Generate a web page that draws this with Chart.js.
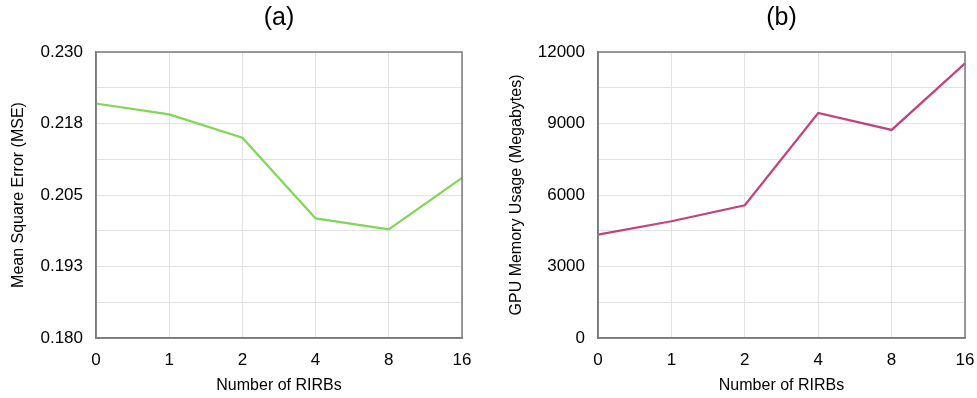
<!DOCTYPE html>
<html>
<head>
<meta charset="utf-8">
<script src="https://cdn.jsdelivr.net/npm/chart.js@4/dist/chart.umd.min.js"></script>
<style>
  html, body { margin: 0; padding: 0; background: #fff; }
  body { width: 977px; height: 398px; position: relative; overflow: hidden; }
  .panel { position: absolute; top: 0; height: 398px; }
  #panelA { left: 0; width: 480px; }
  #panelB { left: 490px; width: 487px; }
</style>
</head>
<body>
<div class="panel" id="panelA"><canvas id="chartA"></canvas></div>
<div class="panel" id="panelB"><canvas id="chartB"></canvas></div>
<script>
// Number of RIRBs on the x axis (shared by both panels)
const rirbCounts = ['0', '1', '2', '4', '8', '16'];

// (a) reconstruction error
const mseValues = [0.2210, 0.2191, 0.2150, 0.2009, 0.1990, 0.2080];
const mseTickLabels = ['0.180', '0.193', '0.205', '0.218', '0.230'];

// (b) GPU memory footprint
const memoryValues = [4340, 4900, 5570, 9440, 8730, 11520];
const memoryTickLabels = ['0', '3000', '6000', '9000', '12000'];

const FONT = "'Liberation Sans', Arial, Helvetica, sans-serif";
const GRID = '#e2e2e2';
const FRAME = '#7a7a7a';

// Dark frame around the plotting area (all four sides)
const framePlugin = {
  id: 'frame',
  afterDatasetsDraw(chart) {
    const a = chart.chartArea, ctx = chart.ctx;
    ctx.save();
    ctx.strokeStyle = FRAME;
    ctx.lineWidth = 1.5;
    ctx.strokeRect(a.left, a.top, a.right - a.left, a.bottom - a.top);
    ctx.restore();
  }
};

// Let the layout padding alone decide the plot margins
function noOverhang(scale) {
  scale.paddingLeft = 0;
  scale.paddingRight = 0;
  scale.paddingTop = 0;
  scale.paddingBottom = 0;
}

function makeChart(id, opts) {
  const { title, values, color, yTitle, min, max, labels, yWidth, yTitlePad, padRight } = opts;
  return new Chart(document.getElementById(id), {
    type: 'line',
    data: {
      labels: rirbCounts,
      datasets: [{
        data: values,
        borderColor: color,
        borderWidth: 2.2,
        pointRadius: 0,
        tension: 0,
        fill: false
      }]
    },
    options: {
      responsive: true,
      maintainAspectRatio: false,
      animation: false,
      layout: { padding: { left: 0, right: padRight, top: 0, bottom: 0 } },
      plugins: {
        legend: { display: false },
        tooltip: { enabled: false },
        title: {
          display: true,
          text: title,
          fullSize: false,
          color: '#000',
          font: { family: FONT, size: 25, weight: 'normal' },
          padding: { top: 3, bottom: 19 }
        }
      },
      scales: {
        x: {
          type: 'category',
          offset: false,
          grid: { color: GRID, lineWidth: 1, drawTicks: false },
          border: { color: FRAME, width: 1.5 },
          ticks: {
            color: '#000',
            padding: 12,
            maxRotation: 0,
            autoSkip: false,
            font: { family: FONT, size: 17 }
          },
          title: {
            display: true,
            text: 'Number of RIRBs',
            color: '#000',
            font: { family: FONT, size: 16 },
            padding: { top: 0, bottom: 3 }
          },
          afterFit(scale) { scale.height = 60; noOverhang(scale); }
        },
        y: {
          type: 'linear',
          min: min,
          max: max,
          grid: { color: GRID, lineWidth: 1, drawTicks: false },
          border: { color: FRAME, width: 1.5 },
          ticks: {
            count: 9,
            color: '#000',
            padding: 13,
            font: { family: FONT, size: 17 },
            callback: (v, i) => (i % 2 === 0 ? labels[i / 2] : '')
          },
          title: {
            display: true,
            text: yTitle,
            color: '#000',
            font: { family: FONT, size: 16 },
            padding: { top: yTitlePad, bottom: 0 }
          },
          afterFit(scale) { scale.width = yWidth; noOverhang(scale); }
        }
      }
    },
    plugins: [framePlugin]
  });
}

makeChart('chartA', {
  title: '(a)',
  values: mseValues,
  color: '#80d655',
  yTitle: 'Mean Square Error (MSE)',
  min: 0.18,
  max: 0.23,
  labels: mseTickLabels,
  yWidth: 96,
  yTitlePad: 9,
  padRight: 18
});

makeChart('chartB', {
  title: '(b)',
  values: memoryValues,
  color: '#c4417e',
  yTitle: 'GPU Memory Usage (Megabytes)',
  min: 0,
  max: 12000,
  labels: memoryTickLabels,
  yWidth: 108,
  yTitlePad: 17,
  padRight: 12
});
</script>
</body>
</html>
